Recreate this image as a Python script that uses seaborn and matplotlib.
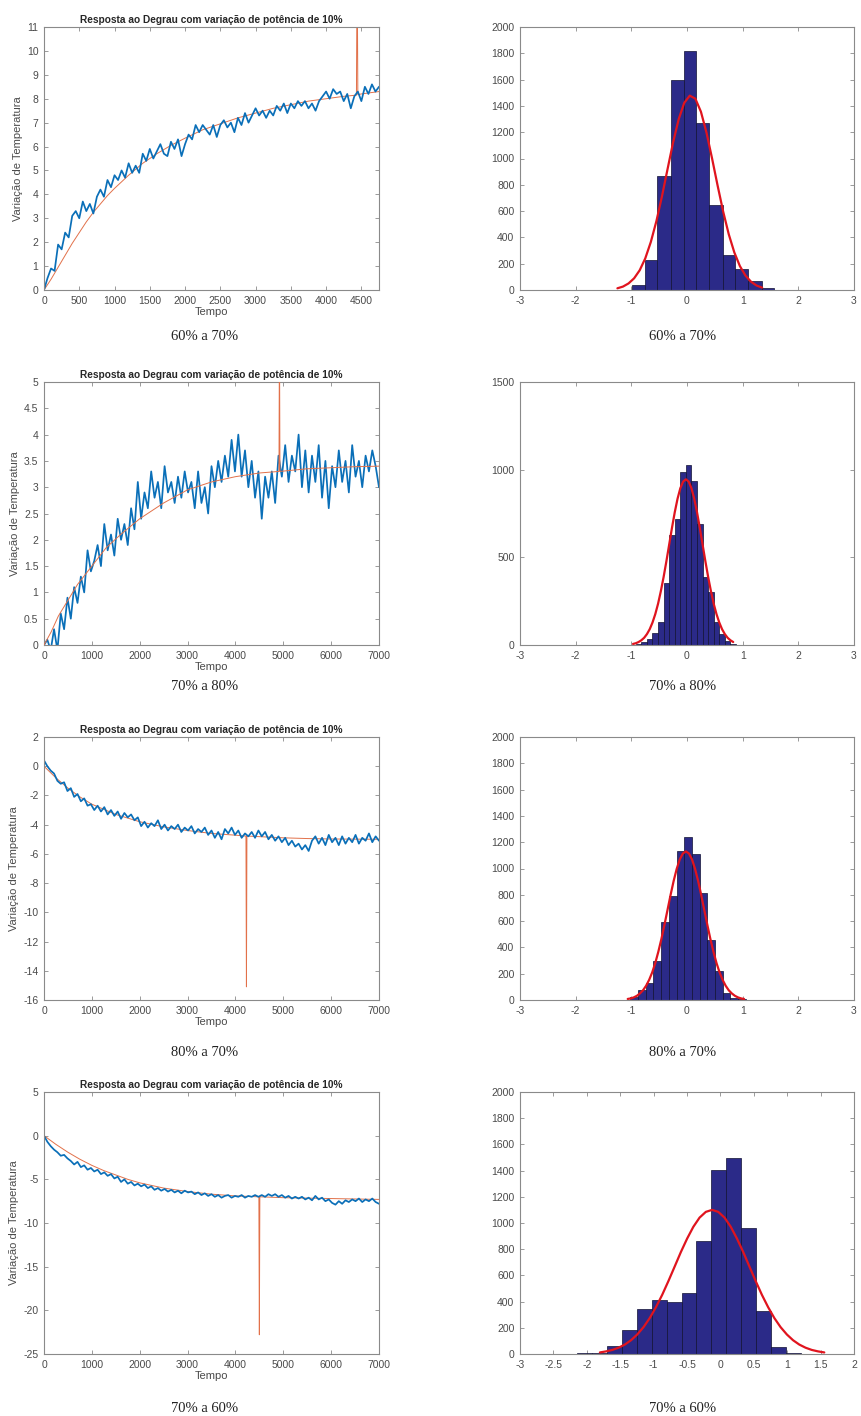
import numpy as np
import pandas as pd
import seaborn as sns
import matplotlib.pyplot as plt

sns.set_style("ticks")
plt.rcParams["font.family"] = ["Liberation Sans", "DejaVu Sans"]
plt.rcParams["axes.unicode_minus"] = False

titulo = "Resposta ao Degrau com variação de potência de 10%"
legendas = ["60% a 70%", "70% a 80%", "80% a 70%", "70% a 60%"]

# --- respostas ao degrau (amostras) ---
passo1 = 50
temp1 = [0.0, 0.5, 0.9, 0.8, 1.9, 1.7, 2.4, 2.2, 3.1, 3.3,
         3.0, 3.7, 3.3, 3.6, 3.2, 3.9, 4.2, 3.9, 4.6, 4.3,
         4.8, 4.6, 5.0, 4.7, 5.3, 4.9, 5.2, 4.9, 5.7, 5.4,
         5.9, 5.5, 5.8, 6.1, 5.7, 5.6, 6.2, 5.9, 6.3, 5.6,
         6.1, 6.5, 6.3, 6.9, 6.6, 6.9, 6.7, 6.5, 6.9, 6.4,
         6.9, 7.1, 6.8, 7.0, 6.6, 7.2, 6.9, 7.4, 7.0, 7.3,
         7.6, 7.3, 7.5, 7.2, 7.5, 7.3, 7.7, 7.5, 7.8, 7.4,
         7.8, 7.6, 7.9, 7.7, 7.9, 7.6, 7.8, 7.5, 7.9, 8.1,
         8.3, 8.0, 8.4, 8.2, 8.3, 7.9, 8.2, 7.6, 8.1, 8.3,
         7.9, 8.5, 8.2, 8.6, 8.3, 8.5]
fit1_t = [0, 100, 200, 300, 400, 500, 600, 700, 800, 900, 1000, 1200, 1400, 1600,
          1800, 2000, 2250, 2500, 2750, 3000, 3250, 3500, 3750, 4000, 4250, 4430,
          4440, 4450, 4500, 4750]
fit1_y = [0.0, 0.45, 0.95, 1.45, 1.95, 2.4, 2.85, 3.25, 3.6, 3.95, 4.25, 4.8, 5.3, 5.7,
          6.05, 6.35, 6.7, 6.95, 7.2, 7.4, 7.6, 7.75, 7.9, 8.0, 8.1, 8.15,
          14.0, 8.17, 8.2, 8.3]

passo2 = 70
temp2 = [0.0, 0.1, -0.1, 0.3, -0.1, 0.6, 0.3, 0.9, 0.5, 1.1,
         0.8, 1.3, 1.0, 1.8, 1.4, 1.6, 1.9, 1.5, 2.3, 1.8,
         2.1, 1.7, 2.4, 2.0, 2.3, 1.9, 2.6, 2.2, 3.1, 2.4,
         2.9, 2.6, 3.3, 2.8, 3.1, 2.6, 3.4, 2.9, 3.1, 2.7,
         3.2, 2.8, 3.3, 2.9, 3.1, 2.6, 3.3, 2.7, 3.0, 2.5,
         3.4, 3.0, 3.5, 3.1, 3.6, 3.2, 3.9, 3.3, 4.0, 3.2,
         3.7, 3.0, 3.5, 2.8, 3.3, 2.4, 3.2, 2.8, 3.3, 2.7,
         3.6, 3.2, 3.8, 3.1, 3.6, 3.3, 4.0, 3.0, 3.7, 2.9,
         3.6, 3.1, 3.8, 2.8, 3.5, 2.6, 3.4, 3.0, 3.7, 3.1,
         3.5, 2.9, 3.8, 3.2, 3.5, 3.0, 3.6, 3.3, 3.7, 3.4,
         3.0]
fit2_t = [0, 150, 300, 500, 700, 1000, 1300, 1600, 2000, 2500, 3000, 3500, 4000,
          4500, 4910, 4920, 4930, 5500, 6000, 6500, 7000]
fit2_y = [0.0, 0.25, 0.55, 0.85, 1.15, 1.5, 1.85, 2.1, 2.4, 2.7, 2.95, 3.1, 3.2,
          3.27, 3.3, 6.0, 3.3, 3.35, 3.37, 3.39, 3.4]

passo3 = 70
temp3 = [0.4, 0.0, -0.3, -0.5, -1.0, -1.2, -1.1, -1.7, -1.5, -2.1,
         -1.9, -2.4, -2.2, -2.7, -2.6, -3.0, -2.7, -3.1, -2.8, -3.3,
         -3.0, -3.4, -3.1, -3.6, -3.2, -3.5, -3.3, -3.7, -3.5, -4.1,
         -3.8, -4.2, -3.9, -4.1, -3.7, -4.3, -4.0, -4.4, -4.1, -4.3,
         -4.0, -4.5, -4.2, -4.4, -4.1, -4.6, -4.3, -4.5, -4.2, -4.7,
         -4.4, -4.9, -4.5, -5.0, -4.3, -4.6, -4.2, -4.7, -4.4, -4.9,
         -4.6, -4.8, -4.5, -4.9, -4.4, -4.8, -4.5, -5.0, -4.7, -5.1,
         -4.8, -5.2, -4.9, -5.4, -5.1, -5.5, -5.3, -5.7, -5.4, -5.8,
         -5.1, -4.8, -5.3, -4.9, -5.4, -4.7, -5.2, -4.9, -5.4, -4.8,
         -5.3, -4.9, -5.2, -4.7, -5.3, -4.9, -5.1, -4.6, -5.2, -4.8,
         -5.1]
fit3_t = [0, 250, 500, 750, 1000, 1500, 2000, 2500, 3000, 3500, 4000, 4220, 4230,
          4240, 4500, 5000, 5500, 6000, 7000]
fit3_y = [0.0, -0.8, -1.5, -2.1, -2.6, -3.3, -3.8, -4.15, -4.4, -4.6, -4.72, -4.78,
          -15.1, -4.78, -4.82, -4.9, -4.95, -4.98, -5.0]

passo4 = 70
temp4 = [0.0, -0.7, -1.2, -1.6, -1.9, -2.3, -2.2, -2.6, -2.9, -3.3,
         -3.0, -3.6, -3.4, -3.9, -3.7, -4.1, -3.9, -4.4, -4.2, -4.6,
         -4.4, -4.9, -4.7, -5.3, -5.0, -5.5, -5.3, -5.7, -5.5, -5.8,
         -5.6, -6.0, -5.8, -6.2, -6.0, -6.3, -6.1, -6.4, -6.2, -6.5,
         -6.3, -6.6, -6.3, -6.5, -6.4, -6.7, -6.5, -6.8, -6.6, -6.9,
         -6.7, -7.0, -6.8, -7.1, -6.9, -6.8, -7.1, -6.9, -7.0, -6.8,
         -7.1, -6.9, -7.0, -6.8, -7.0, -6.8, -7.0, -6.7, -6.9, -6.7,
         -7.0, -6.8, -7.1, -6.9, -7.2, -7.0, -7.2, -7.0, -7.3, -7.1,
         -7.4, -6.9, -7.3, -7.1, -7.5, -7.3, -7.7, -7.9, -7.5, -7.8,
         -7.4, -7.6, -7.3, -7.5, -7.2, -7.6, -7.3, -7.5, -7.2, -7.6,
         -7.8]
fit4_t = [0, 250, 500, 750, 1000, 1250, 1500, 1750, 2000, 2500, 3000, 3500, 4000,
          4490, 4500, 4510, 5000, 5500, 6000, 6500, 7000]
fit4_y = [0.0, -1.0, -1.9, -2.7, -3.4, -4.0, -4.5, -5.0, -5.4, -6.0, -6.4, -6.7, -6.9,
          -7.0, -22.8, -7.0, -7.1, -7.15, -7.2, -7.25, -7.3]

# --- histogramas dos residuos ---
hist1_bordas = [-0.99, -0.76, -0.53, -0.29, -0.06, 0.17, 0.40, 0.64, 0.87, 1.10, 1.34, 1.57]
hist1_cont = [40, 230, 870, 1595, 1820, 1268, 643, 268, 160, 68, 15]
curva1_x = [-1.25, -1.15, -1.05, -0.95, -0.85, -0.75, -0.65, -0.55, -0.45, -0.35,
            -0.25, -0.15, -0.05, 0.05, 0.15, 0.25, 0.35, 0.45, 0.55, 0.65,
            0.75, 0.85, 0.95, 1.05, 1.15, 1.25, 1.35]
curva1_y = [13, 26, 50, 89, 150, 240, 365, 523, 712, 918, 1122, 1298, 1423, 1478,
            1455, 1356, 1197, 1001, 794, 596, 424, 286, 182, 110, 63, 34, 18]

hist2_bordas = [-0.92, -0.82, -0.72, -0.62, -0.52, -0.42, -0.32, -0.22, -0.12, -0.02,
                0.08, 0.18, 0.28, 0.38, 0.48, 0.58, 0.68, 0.78, 0.88]
hist2_cont = [5, 15, 35, 70, 133, 356, 630, 720, 985, 1025, 935, 690, 390, 305, 130,
              60, 25, 8]
curva2_x = [-0.97, -0.92, -0.87, -0.82, -0.77, -0.72, -0.67, -0.62, -0.57, -0.52,
            -0.47, -0.42, -0.37, -0.32, -0.27, -0.22, -0.17, -0.12, -0.07, -0.02,
            0.03, 0.08, 0.13, 0.18, 0.23, 0.28, 0.33, 0.38, 0.43, 0.48,
            0.53, 0.58, 0.63, 0.68, 0.73, 0.78, 0.83]
curva2_y = [6, 10, 17, 27, 41, 62, 90, 128, 176, 235, 307, 388, 478, 573, 668, 757, 834,
            894, 932, 945, 932, 894, 834, 757, 668, 573, 478, 388, 307, 235, 176, 128,
            90, 62, 41, 27, 17]

hist3_bordas = [-1.154, -1.016, -0.878, -0.74, -0.602, -0.464, -0.326, -0.188, -0.05,
                0.088, 0.226, 0.364, 0.502, 0.64, 0.778, 0.916, 1.054]
hist3_cont = [3, 25, 76, 132, 297, 596, 794, 1130, 1239, 1109, 812, 457, 223, 51, 18, 5]
curva3_x = [-1.065, -1.01, -0.955, -0.90, -0.845, -0.79, -0.735, -0.68, -0.625, -0.57,
            -0.515, -0.46, -0.405, -0.35, -0.295, -0.24, -0.185, -0.13, -0.075, -0.02,
            0.035, 0.09, 0.145, 0.20, 0.255, 0.31, 0.365, 0.42, 0.475, 0.53,
            0.585, 0.64, 0.695, 0.75, 0.805, 0.86, 0.915, 0.97, 1.025]
curva3_y = [8, 12, 20, 32, 50, 74, 108, 153, 210, 281, 367, 464, 572, 685, 799, 905,
            997, 1069, 1114, 1130, 1114, 1069, 997, 905, 799, 685, 572, 464, 367, 281,
            210, 153, 108, 74, 50, 32, 20, 12, 8]

hist4_bordas = [-2.15, -1.926, -1.702, -1.478, -1.254, -1.03, -0.806, -0.582, -0.358,
                -0.134, 0.09, 0.314, 0.538, 0.762, 0.986, 1.21]
hist4_cont = [5, 10, 61, 180, 340, 409, 394, 462, 861, 1402, 1497, 965, 328, 56, 5]
curva4_x = [-1.804, -1.711, -1.618, -1.525, -1.431, -1.338, -1.245, -1.151, -1.058,
            -0.965, -0.871, -0.778, -0.685, -0.592, -0.498, -0.405, -0.312, -0.218,
            -0.125, -0.032, 0.062, 0.155, 0.248, 0.342, 0.435, 0.528, 0.621, 0.715,
            0.808, 0.901, 0.995, 1.088, 1.181, 1.275, 1.368, 1.461, 1.555]
curva4_y = [12, 20, 31, 48, 72, 105, 149, 205, 274, 357, 452, 557, 667, 778, 881, 971,
            1041, 1085, 1100, 1085, 1041, 971, 881, 778, 667, 557, 452, 357, 274, 205,
            149, 105, 72, 48, 31, 20, 12]

azul = "#0a6fb8"
laranja = "#E2714A"
barra = "#2B2A88"
cinza = "#8a8a8a"

fig = plt.figure(figsize=(8.61, 14.16), dpi=100)
W, H = 861, 1416
linhas_px = [(27, 290), (382, 645), (737, 1000), (1092, 1354)]
legenda_y = [337, 686, 1053, 1408]


def eixo(x0, x1, y0, y1):
    return fig.add_axes([x0 / W, 1 - y1 / H, (x1 - x0) / W, (y1 - y0) / H])


def estilo(ax, xlim, xticks, ylim, yticks):
    ax.set_xlim(xlim)
    ax.set_ylim(ylim)
    ax.set_xticks(xticks)
    ax.set_yticks(yticks)
    ax.set_xticklabels([f"{v:g}" for v in xticks])
    ax.set_yticklabels([f"{v:g}" for v in yticks])
    ax.tick_params(direction="in", top=True, right=True, length=3, width=0.6,
                   color=cinza, labelcolor="#4a4a4a", labelsize=7.5, pad=4)
    for s in ax.spines.values():
        s.set_visible(True)
        s.set_color(cinza)
        s.set_linewidth(0.8)
    ax.set_xlabel("")
    ax.set_ylabel("")


series = [
    (np.arange(len(temp1)) * passo1, temp1, fit1_t, fit1_y, (0, 4750), np.arange(0, 4501, 500),
     (0, 11), np.arange(0, 12, 1), False),
    (np.arange(len(temp2)) * passo2, temp2, fit2_t, fit2_y, (0, 7000), np.arange(0, 7001, 1000),
     (0, 5), np.arange(0, 5.01, 0.5), True),
    (np.arange(len(temp3)) * passo3, temp3, fit3_t, fit3_y, (0, 7000), np.arange(0, 7001, 1000),
     (-16, 2), np.arange(-16, 3, 2), False),
    (np.arange(len(temp4)) * passo4, temp4, fit4_t, fit4_y, (0, 7000), np.arange(0, 7001, 1000),
     (-25, 5), np.arange(-25, 6, 5), False),
]

histos = [
    (hist1_bordas, hist1_cont, curva1_x, curva1_y, (-3, 3), np.arange(-3, 4, 1),
     (0, 2000), np.arange(0, 2001, 200)),
    (hist2_bordas, hist2_cont, curva2_x, curva2_y, (-3, 3), np.arange(-3, 4, 1),
     (0, 1500), np.arange(0, 1501, 500)),
    (hist3_bordas, hist3_cont, curva3_x, curva3_y, (-3, 3), np.arange(-3, 4, 1),
     (0, 2000), np.arange(0, 2001, 200)),
    (hist4_bordas, hist4_cont, curva4_x, curva4_y, (-3, 2), np.arange(-3, 2.01, 0.5),
     (0, 2000), np.arange(0, 2001, 200)),
]

for i in range(4):
    y0, y1 = linhas_px[i]

    # resposta ao degrau: ajuste por baixo do sinal, exceto na segunda linha
    t, v, ft, fy, xl, xt, yl, yt, fit_cima = series[i]
    ax = eixo(44, 379, y0, y1)
    sns.lineplot(x=ft, y=fy, ax=ax, color=laranja, lw=0.7)
    sns.lineplot(x=t, y=v, ax=ax, color=azul, lw=1.25)
    ax.lines[0].set_zorder(3 if fit_cima else 1)
    ax.lines[1].set_zorder(2)
    estilo(ax, xl, xt, yl, yt)
    ax.set_title(titulo, fontsize=7.3, fontweight="bold", pad=3)
    ax.set_xlabel("Tempo", fontsize=8, color="#4a4a4a", labelpad=1)
    ax.set_ylabel("Variação de Temperatura", fontsize=8, color="#4a4a4a", labelpad=3)

    # histograma + curva normal
    bordas, cont, cx, cy, hxl, hxt, hyl, hyt = histos[i]
    b = np.array(bordas)
    df_h = pd.DataFrame({"residuo": (b[:-1] + b[1:]) / 2, "n": cont})
    axh = eixo(520, 854, y0, y1)
    sns.histplot(data=df_h, x="residuo", weights="n", bins=list(bordas), ax=axh,
                 color=barra, edgecolor="#111133", linewidth=0.5, alpha=1)
    sns.lineplot(x=cx, y=cy, ax=axh, color="#E0141E", lw=1.6, zorder=3)
    estilo(axh, hxl, hxt, hyl, hyt)

    yc = 1 - legenda_y[i] / H
    fig.text(205 / W, yc, legendas[i], ha="center", va="center", fontsize=10.5,
             family=["Liberation Serif", "DejaVu Serif"], color="#222222")
    fig.text(683 / W, yc, legendas[i], ha="center", va="center", fontsize=10.5,
             family=["Liberation Serif", "DejaVu Serif"], color="#222222")

fig.savefig("out.png", dpi=100, facecolor="white")
